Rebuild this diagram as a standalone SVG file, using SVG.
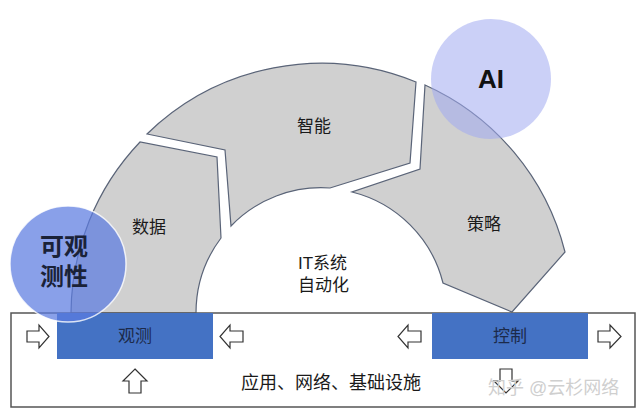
<svg xmlns="http://www.w3.org/2000/svg" width="640" height="414" viewBox="0 0 640 414">
<style>
.seg{fill:#d0d0d0;stroke:#5a6478;stroke-width:1.2;stroke-linejoin:miter}
.t{font-family:"Liberation Sans","Noto Sans CJK SC",sans-serif;font-size:17px;fill:#1a1a1a;text-anchor:middle}
.blk{fill:#4472c4}
.bt{font-family:"Liberation Sans","Noto Sans CJK SC",sans-serif;font-size:17px;fill:#1c2a4a;text-anchor:middle}
.arr{fill:#fff;stroke:#333;stroke-width:1.2;stroke-linejoin:miter}
.big{font-family:"Liberation Sans","Noto Sans CJK SC",sans-serif;font-weight:bold;text-anchor:middle}
</style>
<rect width="640" height="414" fill="#fff"/>
<g id="seg-data">
<path class="seg" d="M71,313 A250,250 0 0 1 140,142 L217,157 L221,238 A125,125 0 0 0 196,313 Z"/>
<text class="t" x="149" y="233">数据</text>
</g>
<g id="seg-intel">
<path class="seg" d="M147,134 A250,250 0 0 1 416,82 L410,163 L330,188 A125,125 0 0 0 231,226 L225,150 Z"/>
<text class="t" x="314" y="132">智能</text>
</g>
<g id="seg-strategy">
<path class="seg" d="M425,85 A250,250 0 0 1 565,252 L512,312 L443,283 A125,125 0 0 0 352,192 L420,169 Z"/>
<text class="t" x="484" y="230">策略</text>
</g>
<g id="center-label">
<text class="t" x="298" y="269" style="text-anchor:start">IT系统</text>
<text class="t" x="298" y="291" style="text-anchor:start">自动化</text>
</g>
<g id="infra">
<rect x="11" y="313" width="624" height="94" fill="#fff" stroke="#555" stroke-width="1.5"/>
<text class="t" x="331" y="389" style="font-size:18px">应用、网络、基础设施</text>
</g>
<g id="observe">
<rect class="blk" x="57" y="313" width="156" height="46"/>
<text class="bt" x="135" y="342">观测</text>
</g>
<g id="control">
<rect class="blk" x="432" y="313" width="156" height="46"/>
<text class="bt" x="510" y="342">控制</text>
</g>
<g id="connectors">
<path class="arr" d="M27,331 H39 V325 L49,336.5 L39,348 V342 H27 Z"/>
<path class="arr" d="M243,331 H230 V325 L220,336.5 L230,348 V342 H243 Z"/>
<path class="arr" d="M421,331 H408 V325 L398,336.5 L408,348 V342 H421 Z"/>
<path class="arr" d="M598,331 H610 V325 L621,336.5 L610,348 V342 H598 Z"/>
<path class="arr" d="M135,369 L147,381 H141 V393 H129 V381 H123 Z"/>
<path class="arr" d="M500,369 H512 V381 H518 L506,393 L494,381 H500 Z"/>
</g>
<g id="observability">
<circle cx="68" cy="264" r="58" fill="#5b7be0" fill-opacity="0.72" stroke="#fff" stroke-opacity="0.8" stroke-width="1.5"/>
<text class="big" x="64" y="255" style="font-size:24px;fill:#1a2238">可观</text>
<text class="big" x="64" y="285" style="font-size:24px;fill:#1a2238">测性</text>
</g>
<g id="ai">
<circle cx="491" cy="79" r="60" fill="#a0aaf0" fill-opacity="0.55"/>
<text class="big" x="491" y="88" style="font-size:26px;fill:#111">AI</text>
</g>
<text x="488" y="394" style="font-family:'Liberation Sans','Noto Sans CJK SC',sans-serif;font-size:18px;fill:#cfcfcf">知乎 @云杉网络</text>
</svg>
